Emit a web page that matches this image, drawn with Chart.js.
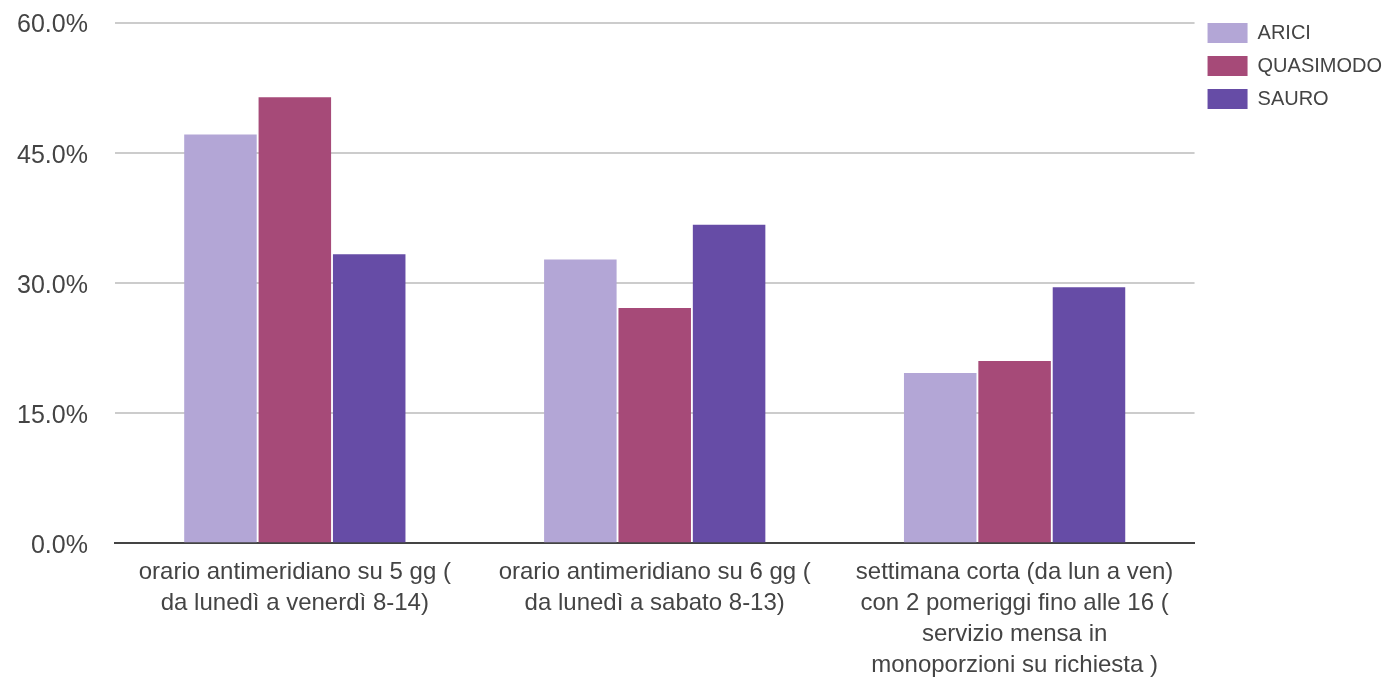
<!DOCTYPE html>
<html>
<head>
<meta charset="utf-8">
<script src="https://cdn.jsdelivr.net/npm/chart.js@4/dist/chart.umd.min.js"></script>
<style>
  html, body { margin: 0; padding: 0; background: #fff; }
  #wrap { width: 1388px; height: 681px; }
</style>
</head>
<body>
<div id="wrap"><canvas id="chart" width="1388" height="681"></canvas></div>
<script>
// categorie (asse x, già spezzate su più righe)
const categorie = [
  ['orario antimeridiano su 5 gg (', 'da lunedì a venerdì 8-14)'],
  ['orario antimeridiano su 6 gg (', 'da lunedì a sabato 8-13)'],
  ['settimana corta (da lun a ven)', 'con 2 pomeriggi fino alle 16 (', 'servizio mensa in', 'monoporzioni su richiesta )'],
];
const scuole   = ['ARICI', 'QUASIMODO', 'SAURO'];
const arici     = [47.1, 32.7, 19.6];
const quasimodo = [51.4, 27.1, 21.0];
const sauro     = [33.3, 36.7, 29.5];
const yTicks    = [0, 15, 30, 45, 60];

const COLORI = ['#b3a6d6', '#a64a78', '#664ca6'];
const FONT   = "'Liberation Sans', Arial, sans-serif";
const TESTO  = '#444';

const serie = [arici, quasimodo, sauro];

new Chart(document.getElementById('chart'), {
  type: 'bar',
  data: {
    labels: categorie,
    datasets: serie.map((d, i) => ({
      label: scuole[i],
      data: d,
      backgroundColor: COLORI[i],
      borderWidth: 0,
      categoryPercentage: 0.62,
      barPercentage: 0.975,
    })),
  },
  options: {
    responsive: false,
    animation: false,
    layout: { padding: { top: 10, left: -10, right: -4, bottom: -14 } },
    plugins: {
      tooltip: { enabled: false },
      legend: {
        position: 'right',
        align: 'start',
        labels: {
          boxWidth: 40,
          boxHeight: 20,
          padding: 13,
          color: TESTO,
          font: { family: FONT, size: 20 },
        },
      },
    },
    scales: {
      x: {
        grid: { display: false, drawTicks: false },
        border: { display: true, color: '#444', width: 2 },
        ticks: {
          color: TESTO,
          padding: 14,
          maxRotation: 0,
          autoSkip: false,
          font: { family: FONT, size: 24, lineHeight: 1.29 },
        },
      },
      y: {
        min: 0,
        max: 60,
        afterBuildTicks: ax => { ax.ticks = yTicks.map(v => ({ value: v })); },
        // il padding dei tick spinge giù l'area del grafico: lo limito
        afterFit: ax => { ax.paddingTop = 22.5; },
        grid: { color: '#cccccc', lineWidth: 2, drawTicks: false },
        border: { display: false },
        ticks: {
          color: TESTO,
          padding: 27,
          labelOffset: 3,
          font: { family: FONT, size: 25 },
          callback: v => v.toFixed(1) + '%',
        },
      },
    },
  },
});
</script>
</body>
</html>
